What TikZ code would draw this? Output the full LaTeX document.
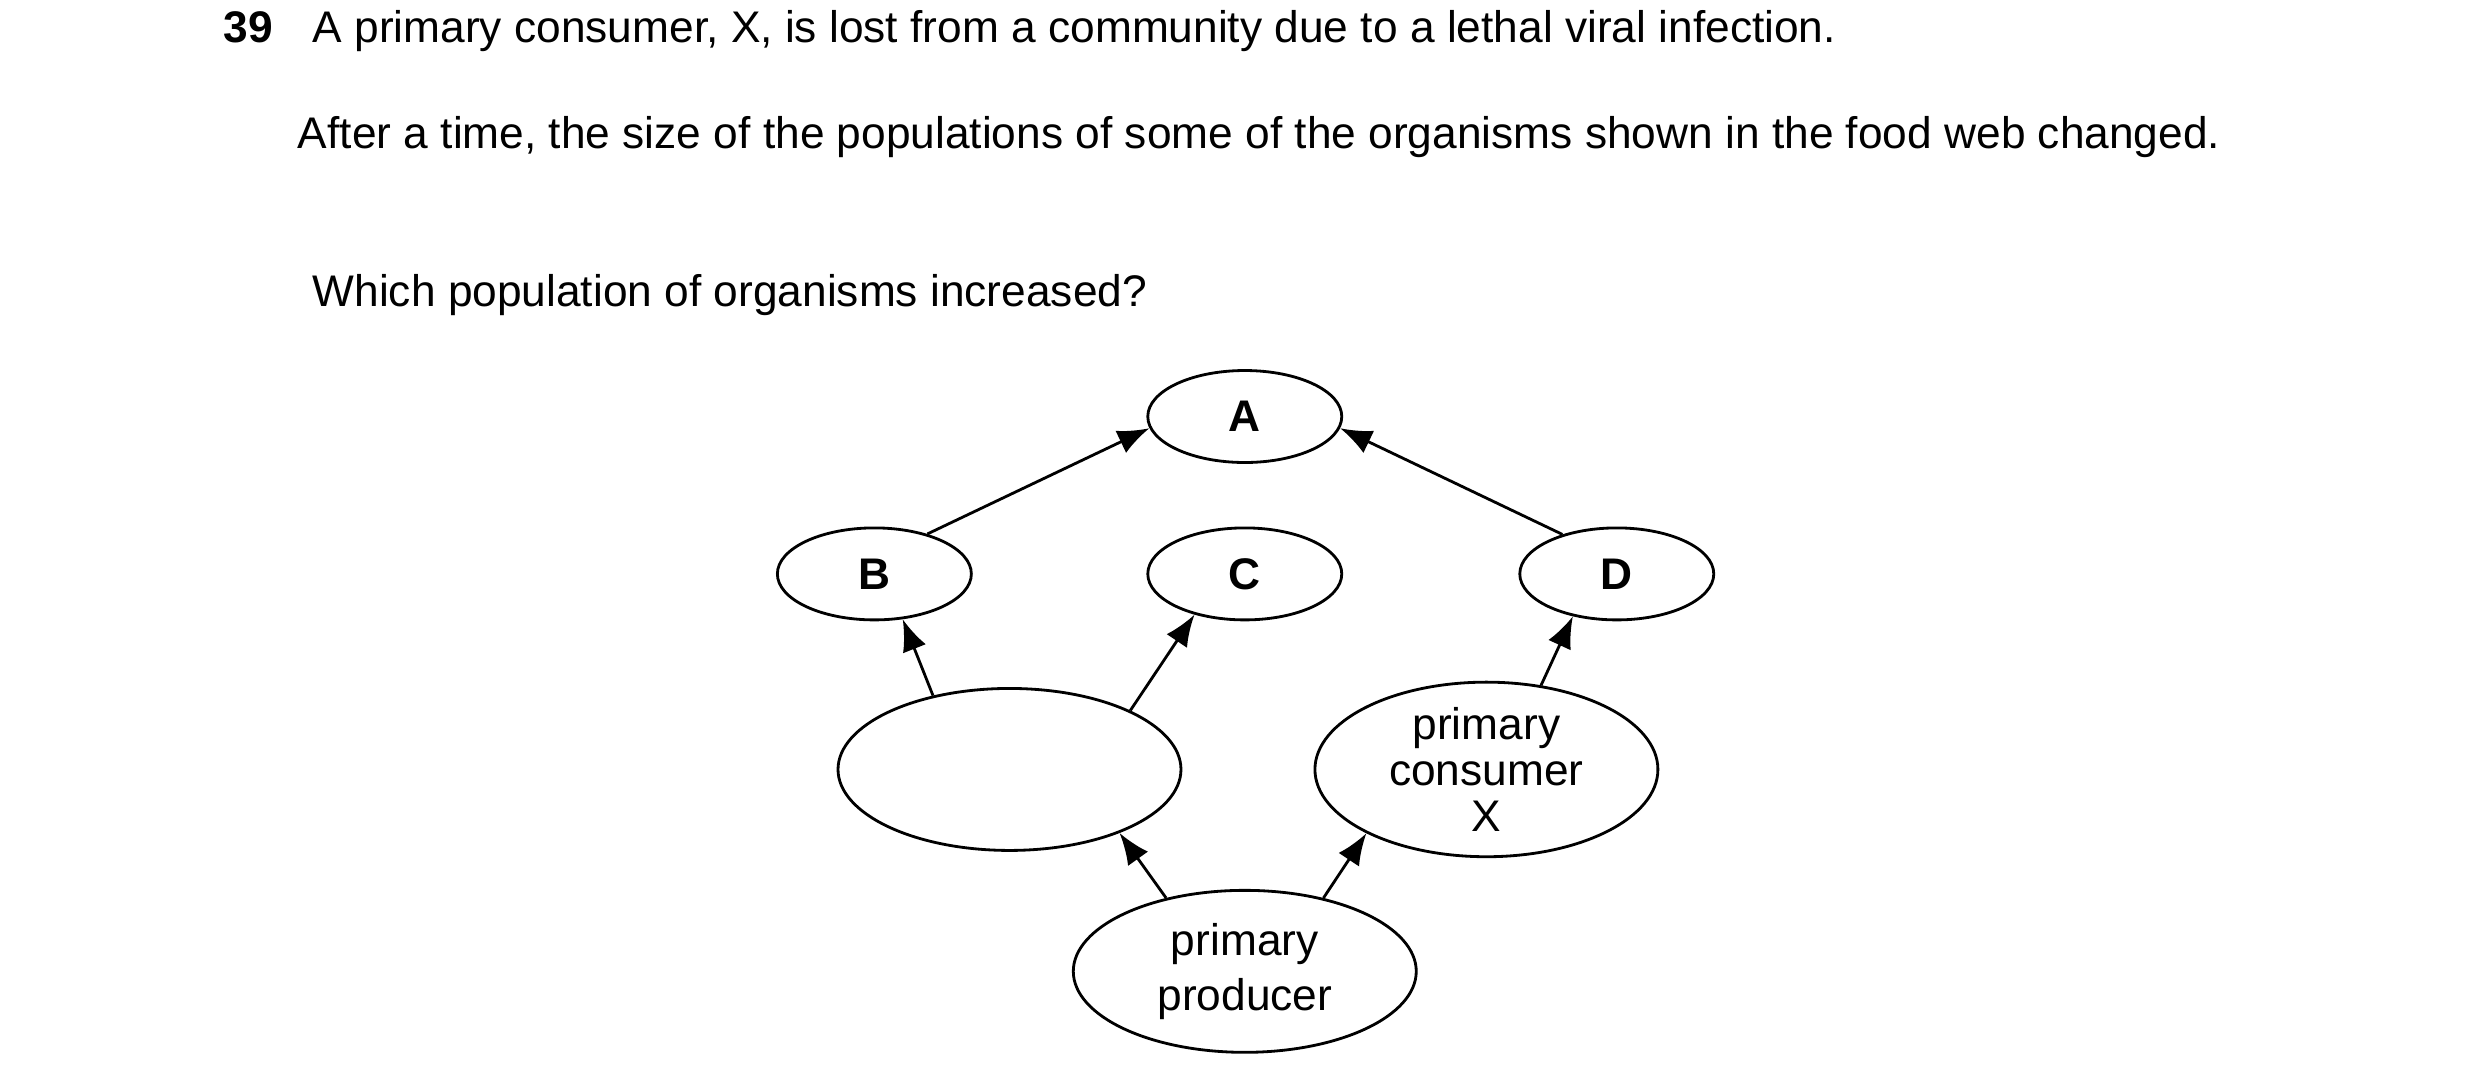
\documentclass[tikz,border=0pt]{standalone}
\usepackage{fontspec}
\setmainfont{Liberation Sans}
\usetikzlibrary{shapes.geometric,arrows.meta}

\begin{document}
\begin{tikzpicture}[x=0.0159cm,y=-0.0159cm,
    small/.style={ellipse,draw,thick,inner sep=0pt,minimum width=1.94cm,minimum height=0.92cm,font=\fontsize{12.6}{15}\selectfont\bfseries},
    big/.style={ellipse,draw,thick,inner sep=0pt,minimum width=3.43cm,minimum height=1.62cm,align=center},
    feeds/.style={thick,-{Latex[length=9pt,width=7pt]}}]
    \useasboundingbox (0,0) rectangle (1560,685);
    \fontsize{12.6}{14.9}\selectfont

    % question text
    \node[anchor=base west,font=\fontsize{12.6}{14.9}\selectfont\bfseries] (num) at (131,27) {39};
    \node[anchor=base west] (line1) at (187,27) {A primary consumer, X, is lost from a community due to a lethal viral infection.};
    \node[anchor=north west,inner sep=0pt,text width=19.87cm,align=justify] (para) at (187,73)
        {After a time, the size of the populations of some of the organisms shown in the food web changed.};
    \node[anchor=base west] (ask) at (187,193) {Which population of organisms increased?};

    % food web
    \node[small] (A) at (783,262) {A};
    \node[small] (B) at (550,361) {B};
    \node[small] (C) at (783,361) {C};
    \node[small] (D) at (1017,361) {D};
    \node[big] (E) at (635,484) {};
    \node[big,font=\fontsize{12.6}{13}\selectfont] (X) at (935,484) {primary\\consumer\\X};
    \node[big,font=\fontsize{12.6}{15.5}\selectfont] (P) at (783,611) {primary\\producer};

    % arrows
    \draw[feeds] (B.37) -- (A.187);
    \draw[feeds] (D.144) -- (A.-7);
    \draw[feeds] (E.136) -- (B.-58);
    \draw[feeds] (E.26) -- (C.219);
    \draw[feeds] (X.57) -- (D.224);
    \draw[feeds] (P.137) -- (E.-30);
    \draw[feeds] (P.43) -- (X.208);
\end{tikzpicture}
\end{document}
